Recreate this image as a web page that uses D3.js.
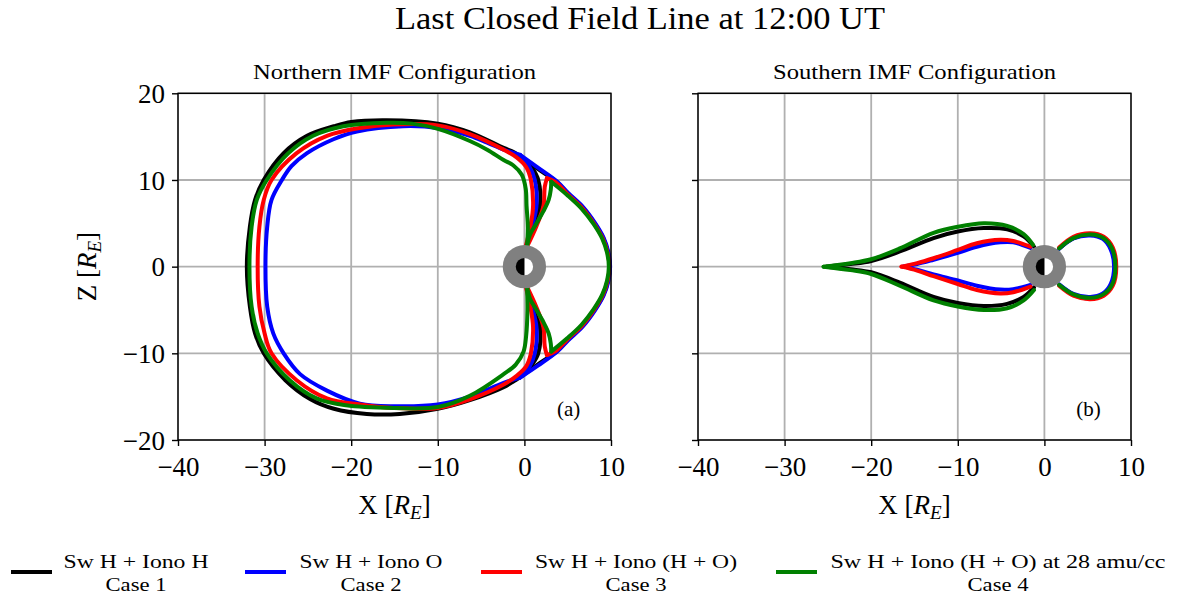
<!DOCTYPE html>
<html>
<head>
<meta charset="utf-8">
<script src="https://cdn.jsdelivr.net/npm/d3@7"></script>
<style>
  html, body { margin: 0; padding: 0; background: #ffffff; }
  svg { display: block; }
</style>
</head>
<body>
<svg id="fig" width="1179" height="596"></svg>
<script>
// ---------------------------------------------------------------
// Last closed field line traces in the X-Z plane (units of R_E).
// Each case is a list of traced segments; segments meet at cusps.
// ---------------------------------------------------------------

const xTicks = [-40, -30, -20, -10, 0, 10];
const zTicks = [-20, -10, 0, 10, 20];
const caseColors = ["#000000", "#0000ff", "#ff0000", "#008000"];
const caseLabels = ["Sw H + Iono H", "Sw H + Iono O", "Sw H + Iono (H + O)", "Sw H + Iono (H + O) at 28 amu/cc"];
const caseNames = ["Case 1", "Case 2", "Case 3", "Case 4"];
const panelTitles = ["Northern IMF Configuration", "Southern IMF Configuration"];
const panelTags = ["(a)", "(b)"];
const earthRadius = 1.0;
const innerBoundaryRadius = 2.5;

// ---- Northern IMF ----
const northCase1 = [
  [[0.0,12.4],[-1.2,13.2],[-2.4,13.7],[-6.3,15.5],[-10,16.5],[-15.9,16.9],[-20,16.7],[-22.0,16.2],[-25.1,15.1],[-27.8,13.1],[-30.1,10.0],[-31.1,7.7],[-31.7,4.6],[-32.05,0],[-31.7,-4.6],[-31.1,-7.7],[-30.1,-10.0],[-27.6,-13.1],[-24.7,-15.3],[-22.0,-16.4],[-18.2,-17.0],[-14.4,-17.0],[-10,-16.4],[-6.3,-15.4],[-2.4,-13.9],[-1.2,-13.2],[-0.1,-12.5]],
  [[0.0,12.4],[0.9,11.4],[1.6,10.0],[1.8,7.0],[1.1,4.7],[0.2,2.3]],
  [[-0.1,-12.5],[0.8,-11.4],[1.6,-10.0],[1.8,-7.0],[1.1,-4.7],[0.2,-2.3]],
  [[0.0,12.4],[1.8,11.1],[3.65,9.85],[5.0,8.45],[6.7,6.85],[8.1,5.0],[9.1,3.3],[9.65,1.65],[9.85,0],[9.65,-1.65],[9.1,-3.3],[8.1,-5.0],[6.7,-6.85],[5.0,-8.45],[3.65,-9.85],[1.8,-11.1],[-0.1,-12.5]]
];
const northCase2 = [
  [[-0.5,12.9],[-2.4,13.5],[-4.3,14.3],[-6.3,15.1],[-10,16.0],[-14.0,16.2],[-19.35,15.6],[-22.05,14.7],[-25.1,13.1],[-26.9,11.6],[-28.0,10.0],[-29.2,7.7],[-29.7,4.6],[-29.9,0],[-29.7,-4.6],[-29.0,-7.7],[-27.8,-10.0],[-25.9,-12.4],[-22.8,-14.3],[-19.0,-15.8],[-15.0,-16.1],[-10,-15.9],[-6.3,-15.0],[-2.4,-13.4],[-0.5,-12.8]],
  [[-0.5,12.9],[0.5,11.7],[1.2,10.0],[1.4,7.0],[0.9,4.7],[0.2,2.3]],
  [[-0.5,-12.8],[0.5,-11.7],[1.2,-10.0],[1.4,-7.0],[0.9,-4.7],[0.2,-2.3]],
  [[-0.5,12.9],[1.6,11.4],[3.8,9.8],[5.05,8.5],[6.75,6.9],[8.15,5.05],[9.15,3.33],[9.7,1.67],[9.9,0],[9.7,-1.67],[9.15,-3.33],[8.15,-5.05],[6.75,-6.9],[5.05,-8.5],[3.8,-9.8],[1.6,-11.4],[-0.5,-12.8]]
];
const northCase3 = [
  [[0.15,2.3],[0.7,4.7],[1.0,7.0],[0.75,10.0],[0.2,11.5],[-0.9,12.6],[-2.4,13.5],[-6.3,15.3],[-10,16.3],[-15.1,16.4],[-19.0,16.0],[-22.8,15.1],[-26.3,13.1],[-29.2,10.0],[-30.1,7.7],[-30.6,4.6],[-30.8,0],[-30.6,-4.6],[-30.0,-7.7],[-29.2,-10.0],[-26.3,-13.1],[-22.8,-15.2],[-19.0,-15.9],[-15.1,-16.3],[-10,-16.3],[-6.3,-15.3],[-2.4,-13.6],[-0.9,-12.6],[0.2,-11.5],[0.75,-10.0],[1.0,-7.0],[0.7,-4.7],[0.15,-2.3]],
  [[0.3,2.3],[1.4,4.7],[2.2,7.0],[2.35,9.2],[2.6,10.2]],
  [[2.6,10.2],[3.6,9.75],[4.95,8.4],[6.65,6.8],[8.05,4.95],[9.05,3.25],[9.6,1.62],[9.8,0],[9.6,-1.62],[9.05,-3.25],[8.05,-4.95],[6.65,-6.8],[4.95,-8.4],[3.6,-9.75],[2.6,-10.2]],
  [[0.3,-2.3],[1.4,-4.7],[2.2,-7.0],[2.35,-9.2],[2.6,-10.2]]
];
const northCase4 = [
  [[0.3,2.3],[0.4,4.5],[0.25,7.0],[0.15,9.0],[-0.3,10.6],[-1.3,11.7],[-2.4,12.3],[-4.3,13.5],[-6.3,14.5],[-10,15.9],[-13,16.5],[-15.9,16.6],[-20.9,16.2],[-24.4,15.1],[-27.25,13.1],[-29.75,10.0],[-30.9,7.7],[-31.5,4.6],[-31.75,0],[-31.5,-4.6],[-30.8,-7.7],[-29.75,-10.0],[-27.1,-13.1],[-24.0,-15.2],[-20.6,-16.0],[-15.1,-16.3],[-10,-16.2],[-6.3,-14.9],[-2.4,-12.4],[-1.0,-11.3],[-0.1,-9.8],[0.2,-8.0],[0.35,-5.0],[0.3,-2.3]],
  [[0.3,2.3],[0.65,3.7],[1.4,5.0],[2.2,6.4],[2.8,7.7],[3.05,8.9],[3.1,9.8]],
  [[3.1,9.8],[4.9,8.3],[6.6,6.7],[8.0,4.9],[9.0,3.2],[9.55,1.6],[9.75,0],[9.55,-1.6],[9.0,-3.2],[8.0,-4.9],[6.6,-6.7],[4.9,-8.3],[3.1,-9.8]],
  [[0.3,-2.3],[0.65,-3.7],[1.4,-5.0],[2.2,-6.4],[2.8,-7.7],[3.05,-8.9],[3.1,-9.8]]
];

// ---- Southern IMF ----
const southCase1 = [
  [[-25.2,0],[-22.4,0.3],[-20,0.65],[-16.7,1.75],[-12.8,3.3],[-10,4.05],[-7.0,4.45],[-4.3,4.3],[-2.4,3.5],[-1.2,2.3]],
  [[-25.2,0],[-22.4,-0.3],[-20,-0.65],[-16.7,-1.85],[-12.8,-3.5],[-10,-4.2],[-7.0,-4.55],[-4.3,-4.3],[-2.4,-3.5],[-1.2,-2.4]],
  [[1.7,2.1],[3.35,3.3],[5.3,3.7],[6.8,3.3],[7.8,2.1],[8.2,0],[7.8,-2.1],[6.8,-3.25],[5.3,-3.65],[3.35,-3.25],[1.7,-2.1]]
];
const southCase2 = [
  [[-16.3,0],[-14.7,0.3],[-12.8,0.8],[-10,1.6],[-7.8,2.3],[-5.1,2.8],[-3.6,2.8],[-1.6,2.15]],
  [[-16.3,0],[-14.7,-0.35],[-12.8,-0.9],[-10,-1.6],[-7.8,-2.2],[-5.1,-2.65],[-3.6,-2.6],[-1.6,-2.1]],
  [[1.7,2.05],[3.35,3.25],[5.3,3.6],[6.75,3.2],[7.65,2.0],[8.05,0],[7.65,-2.0],[6.75,-3.1],[5.3,-3.5],[3.35,-3.15],[1.7,-2.05]]
];
const southCase3 = [
  [[-16.5,0],[-14.7,0.4],[-12.8,0.97],[-10,1.93],[-7.8,2.7],[-5.1,3.1],[-3.6,2.95],[-1.6,2.3]],
  [[-16.5,0],[-14.7,-0.45],[-12.8,-1.1],[-10,-2.0],[-7.8,-2.7],[-5.1,-3.1],[-3.6,-2.95],[-1.6,-2.3]],
  [[1.7,2.2],[3.35,3.45],[5.3,3.85],[6.85,3.45],[7.9,2.2],[8.3,0],[7.9,-2.2],[6.85,-3.35],[5.3,-3.75],[3.35,-3.35],[1.7,-2.2]]
];
const southCase4 = [
  [[-25.5,0],[-22.4,0.4],[-20,0.85],[-16.7,2.1],[-12.8,3.9],[-10,4.6],[-7.0,5.0],[-4.3,4.7],[-2.4,3.75],[-1.3,2.5]],
  [[-25.5,0],[-22.4,-0.4],[-20,-0.85],[-16.7,-2.2],[-12.8,-3.9],[-10,-4.6],[-7.0,-5.0],[-4.3,-4.8],[-2.4,-3.9],[-1.2,-2.7]],
  [[1.7,2.1],[3.35,3.3],[5.3,3.7],[6.8,3.3],[7.8,2.1],[8.2,0],[7.8,-2.1],[6.8,-3.2],[5.3,-3.6],[3.35,-3.2],[1.7,-2.1]]
];

const panelCases = [
  [northCase1, northCase2, northCase3, northCase4],
  [southCase1, southCase2, southCase3, southCase4]
];

// ---------------------------------------------------------------
const FONT = "'Liberation Serif', 'Times New Roman', serif";
const svg = d3.select("#fig");
svg.append("rect").attr("width", 1179).attr("height", 596).attr("fill", "#ffffff");

const panelLeft = [178, 698];
const panelWidth = 433;
const panelTop = 93.3;
const panelBottom = 440;

// Figure title
svg.append("text")
  .attr("x", 640).attr("y", 29)
  .attr("text-anchor", "middle")
  .attr("font-family", FONT).attr("font-size", 31)
  .attr("textLength", 490).attr("lengthAdjust", "spacingAndGlyphs")
  .text("Last Closed Field Line at 12:00 UT");

function addRLabel(textSel, prefix) {
  textSel.append("tspan").text(prefix + " [");
  textSel.append("tspan").attr("font-style", "italic").text("R");
  textSel.append("tspan").attr("font-style", "italic").attr("font-size", 19).attr("dy", 5).text("E");
  textSel.append("tspan").attr("dy", -5).text("]");
}

panelCases.forEach((cases, p) => {
  const x = d3.scaleLinear().domain([-40, 10]).range([panelLeft[p], panelLeft[p] + panelWidth]);
  const y = d3.scaleLinear().domain([-20, 20]).range([panelBottom, panelTop]);
  const g = svg.append("g");

  // grid
  g.append("g").selectAll("line").data(xTicks).join("line")
    .attr("x1", d => x(d)).attr("x2", d => x(d))
    .attr("y1", panelTop).attr("y2", panelBottom)
    .attr("stroke", "#b0b0b0").attr("stroke-width", 1.8);
  g.append("g").selectAll("line").data(zTicks).join("line")
    .attr("x1", panelLeft[p]).attr("x2", panelLeft[p] + panelWidth)
    .attr("y1", d => y(d)).attr("y2", d => y(d))
    .attr("stroke", "#b0b0b0").attr("stroke-width", 1.8);

  // field line traces
  const line = d3.line()
    .x(d => x(d[0])).y(d => y(d[1]))
    .curve(d3.curveCatmullRom.alpha(0.5));
  cases.forEach((segments, c) => {
    g.append("g").selectAll("path").data(segments).join("path")
      .attr("d", line)
      .attr("fill", "none")
      .attr("stroke", caseColors[c])
      .attr("stroke-width", 4)
      .attr("stroke-linejoin", "round")
      .attr("stroke-linecap", "round");
  });

  // inner boundary and Earth (night side dark)
  const cx = x(0), cy = y(0);
  const rB = x(innerBoundaryRadius) - x(0);
  const rE = x(earthRadius) - x(0);
  g.append("circle").attr("cx", cx).attr("cy", cy).attr("r", rB).attr("fill", "#808080");
  g.append("path")
    .attr("transform", `translate(${cx},${cy})`)
    .attr("d", d3.arc()({innerRadius: 0, outerRadius: rE, startAngle: 0, endAngle: Math.PI}))
    .attr("fill", "#ffffff");
  g.append("path")
    .attr("transform", `translate(${cx},${cy})`)
    .attr("d", d3.arc()({innerRadius: 0, outerRadius: rE, startAngle: Math.PI, endAngle: 2 * Math.PI}))
    .attr("fill", "#000000");

  // frame
  g.append("rect")
    .attr("x", panelLeft[p]).attr("y", panelTop)
    .attr("width", panelWidth).attr("height", panelBottom - panelTop)
    .attr("fill", "none").attr("stroke", "#000000").attr("stroke-width", 1.4);

  // axes
  const xAxis = d3.axisBottom(x).tickValues(xTicks).tickSize(6).tickPadding(11);
  const gx = g.append("g").attr("transform", `translate(0,${panelBottom})`).call(xAxis);
  const yAxis = d3.axisLeft(y).tickValues(zTicks).tickSize(6).tickPadding(7);
  if (p === 1) yAxis.tickFormat(() => "");
  const gy = g.append("g").attr("transform", `translate(${panelLeft[p]},0)`).call(yAxis);
  [gx, gy].forEach(ax => {
    ax.select(".domain").remove();
    ax.selectAll(".tick line").attr("stroke", "#000000").attr("stroke-width", 1.4);
    ax.selectAll(".tick text").attr("font-family", FONT).attr("font-size", 27).attr("fill", "#000000");
  });
  gx.selectAll(".tick text").attr("dy", "0.71em");
  gy.selectAll(".tick text").attr("dy", "0.34em");

  // panel title
  g.append("text")
    .attr("x", panelLeft[p] + panelWidth / 2).attr("y", 79)
    .attr("text-anchor", "middle")
    .attr("font-family", FONT).attr("font-size", 22)
    .attr("textLength", 283).attr("lengthAdjust", "spacingAndGlyphs")
    .text(panelTitles[p]);

  // panel tag
  g.append("text")
    .attr("x", x(5.1)).attr("y", y(-17.2))
    .attr("text-anchor", "middle")
    .attr("font-family", FONT).attr("font-size", 21)
    .text(panelTags[p]);

  // x-axis label
  const xl = g.append("text")
    .attr("x", panelLeft[p] + panelWidth / 2).attr("y", 514)
    .attr("text-anchor", "middle")
    .attr("font-family", FONT).attr("font-size", 27);
  addRLabel(xl, "X");

  if (p === 0) {
    const zl = g.append("text")
      .attr("transform", `translate(96,${(panelTop + panelBottom) / 2}) rotate(-90)`)
      .attr("text-anchor", "middle")
      .attr("font-family", FONT).attr("font-size", 27);
    addRLabel(zl, "Z");
  }
});

// legend
const legendHandleX = [11, 245, 481, 776];
const legendTextX = [136, 371, 636, 998];
const legendTextW = [145, 143, 202, 335];
const lg = svg.append("g");
caseLabels.forEach((lab, i) => {
  lg.append("line")
    .attr("x1", legendHandleX[i]).attr("x2", legendHandleX[i] + 41)
    .attr("y1", 572).attr("y2", 572)
    .attr("stroke", caseColors[i]).attr("stroke-width", 4);
  lg.append("text")
    .attr("x", legendTextX[i]).attr("y", 568)
    .attr("text-anchor", "middle")
    .attr("font-family", FONT).attr("font-size", 19)
    .attr("textLength", legendTextW[i]).attr("lengthAdjust", "spacingAndGlyphs")
    .text(lab);
  lg.append("text")
    .attr("x", legendTextX[i]).attr("y", 591)
    .attr("text-anchor", "middle")
    .attr("font-family", FONT).attr("font-size", 19)
    .attr("textLength", 61).attr("lengthAdjust", "spacingAndGlyphs")
    .text(caseNames[i]);
});
</script>
</body>
</html>
